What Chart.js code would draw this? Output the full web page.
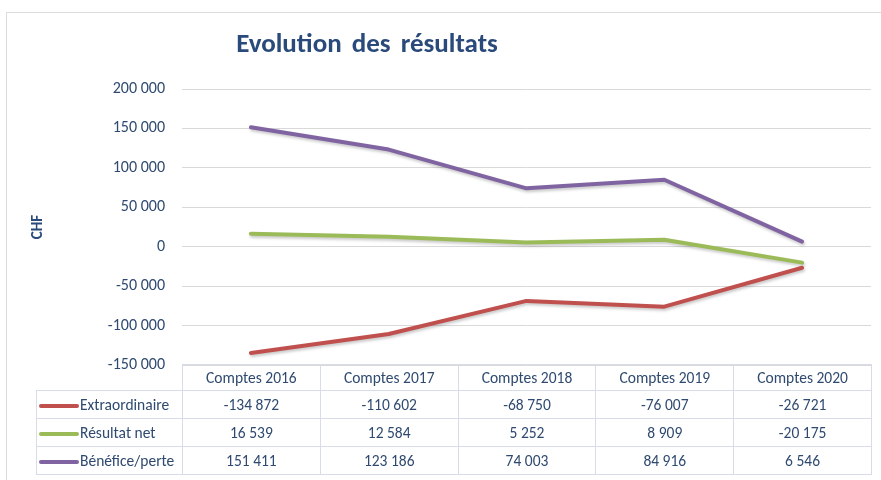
<!DOCTYPE html>
<html lang="fr">
<head>
    <meta charset="UTF-8">
    <title>Evolution des résultats</title>
    <script src="https://cdn.jsdelivr.net/npm/chart.js"></script>
    <style>
        html, body {
            margin: 0;
            padding: 0;
            background: #ffffff;
            font-family: Carlito, Lato, sans-serif;
        }
        .wrap {
            position: relative;
            width: 881px;
            height: 480px;
            overflow: hidden;
        }
        .frame {
            position: absolute;
            left: 6px;
            top: 12px;
            width: 900px;
            height: 480px;
            border: 1px solid #dcdcdc;
        }
        #chart {
            position: absolute;
            left: 0;
            top: 0;
        }
        .title {
            position: absolute;
            left: 0;
            top: 26px;
            width: 734px;
            text-align: center;
            font-weight: bold;
            font-size: 27px;
            color: #2a4a7b;
            word-spacing: 4px;
        }
        table.data {
            position: absolute;
            left: 36px;
            top: 364px;
            border-collapse: collapse;
            table-layout: fixed;
            font-size: 15.5px;
            color: #2f4a70;
        }
        table.data td {
            border: 1px solid #d6dde8;
            text-align: center;
            padding: 0;
            height: 27px;
            white-space: nowrap;
        }
        table.data tr.head td { height: 25px; }
        table.data td.empty { border: none; }
        table.data td.name {
            text-align: left;
            padding-left: 2px;
        }
        .key {
            display: inline-block;
            width: 40px;
            height: 4px;
            border-radius: 2px;
            vertical-align: middle;
            margin-right: 1px;
        }
    </style>
</head>
<body>
<div class="wrap">
    <div class="frame"></div>
    <canvas id="chart" width="881" height="480"></canvas>
    <div class="title">Evolution des résultats</div>
    <table class="data" id="dataTable"></table>
</div>

<script>
    // données
    const categories = ['Comptes 2016', 'Comptes 2017', 'Comptes 2018', 'Comptes 2019', 'Comptes 2020'];
    const extraordinaire = [-134872, -110602, -68750, -76007, -26721];
    const resultatNet = [16539, 12584, 5252, 8909, -20175];
    const beneficePerte = [151411, 123186, 74003, 84916, 6546];
    const seriesNames = ['Extraordinaire', 'Résultat net', 'Bénéfice/perte'];
    const seriesColors = ['#c0504d', '#9bbb59', '#8064a2'];
    const yTicks = [-150000, -100000, -50000, 0, 50000, 100000, 150000, 200000];

    const fmt = (v) => {
        const s = Math.abs(v).toString().replace(/\B(?=(\d{3})+(?!\d))/g, ' ');
        return (v < 0 ? '-' : '') + s;
    };

    const allSeries = [extraordinaire, resultatNet, beneficePerte];

    const shadowPlugin = {
        id: 'lineShadow',
        beforeDatasetsDraw(chart) {
            const c = chart.ctx;
            c.save();
            c.shadowColor = 'rgba(0,0,0,0.22)';
            c.shadowBlur = 3;
            c.shadowOffsetX = 1;
            c.shadowOffsetY = 2;
        },
        afterDatasetsDraw(chart) {
            chart.ctx.restore();
        }
    };

    const chart = new Chart(document.getElementById('chart'), {
        type: 'line',
        data: {
            labels: categories,
            datasets: allSeries.map((d, i) => ({
                label: seriesNames[i],
                data: d,
                borderColor: seriesColors[i],
                backgroundColor: seriesColors[i],
                borderWidth: 4,
                pointRadius: 0,
                tension: 0,
                borderCapStyle: 'round',
                borderJoinStyle: 'round'
            }))
        },
        options: {
            responsive: false,
            animation: false,
            layout: { padding: { left: 0, right: 10, top: 89, bottom: 115 } },
            plugins: {
                legend: { display: false },
                tooltip: { enabled: false }
            },
            scales: {
                x: {
                    display: false,
                    offset: true
                },
                y: {
                    min: -150000,
                    max: 200000,
                    afterFit: (s) => { s.width = 182; },
                    afterBuildTicks: (s) => { s.ticks = yTicks.map(v => ({ value: v })); },
                    border: { display: false },
                    grid: { color: '#d9d9d9', drawTicks: false, lineWidth: 1 },
                    ticks: {
                        padding: 17,
                        color: '#2f4a70',
                        font: { family: 'Carlito, Lato, sans-serif', size: 16 },
                        callback: (v) => fmt(v)
                    },
                    title: {
                        display: true,
                        text: 'CHF',
                        color: '#2a4a7b',
                        font: { family: 'Carlito, Lato, sans-serif', size: 15, weight: 'bold' },
                        padding: { top: 29, bottom: 0 }
                    }
                }
            }
        },
        plugins: [shadowPlugin]
    });

    // tableau de données sous le graphique
    const table = document.getElementById('dataTable');
    const area = chart.chartArea;
    const colW = (area.right - area.left) / categories.length;
    let html = '<colgroup><col style="width:' + (area.left - 36) + 'px">';
    categories.forEach(() => { html += '<col style="width:' + colW + 'px">'; });
    html += '</colgroup>';
    html += '<tr class="head"><td class="empty"></td>' + categories.map(c => '<td>' + c + '</td>').join('') + '</tr>';
    allSeries.forEach((d, i) => {
        html += '<tr><td class="name"><span class="key" style="background:' + seriesColors[i] + '"></span>' + seriesNames[i] + '</td>';
        html += d.map(v => '<td>' + fmt(v) + '</td>').join('') + '</tr>';
    });
    table.innerHTML = html;
</script>
</body>
</html>
